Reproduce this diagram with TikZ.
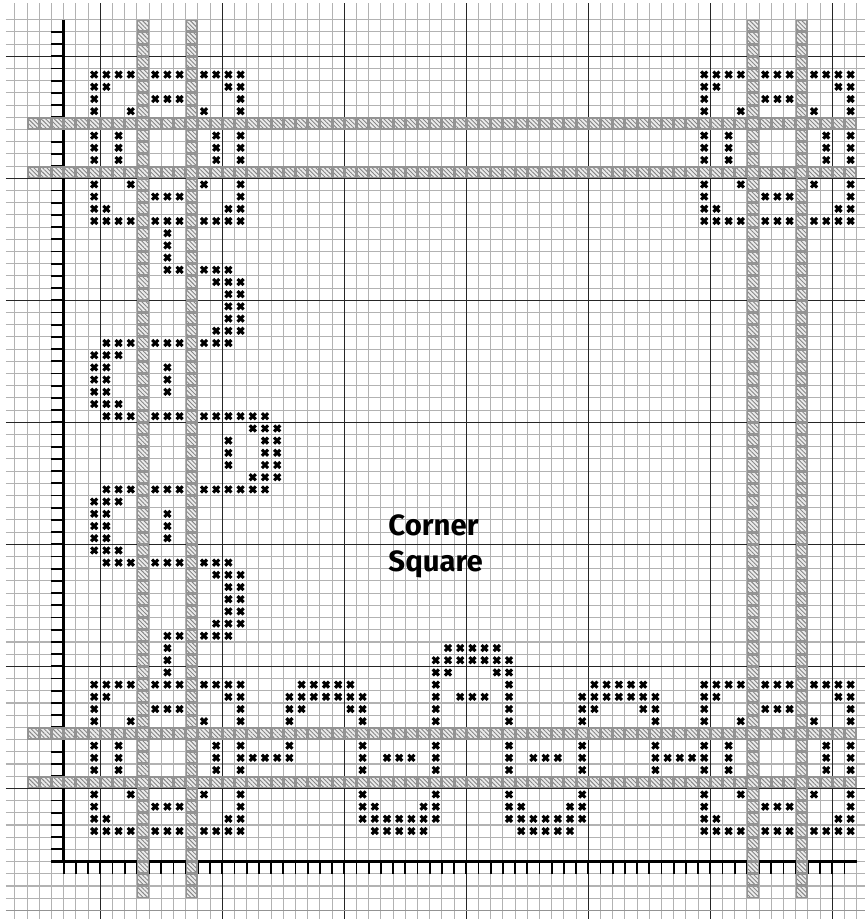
\documentclass[tikz,border=0pt]{standalone}
\usepackage{fontspec}
\setmainfont{Fira Sans}
\usetikzlibrary{patterns.meta}

\tikzset{
  gridline/.style={draw=gray!60,line width=.85pt},
  boldline/.style={draw=black!85,line width=.85pt},
  ruler/.style={draw=black,line width=1.4pt},
  rulerbase/.style={draw=black,line width=2pt},
  band/.style={draw=gray!85,line width=1.1pt,preaction={fill=gray!15},pattern={Lines[angle=-45,distance=2.3pt,line width=.7pt]},pattern color=gray!95},
  stitch/.style={draw=black,line width=2.3pt},
  labeltext/.style={font=\bfseries\fontsize{22}{26}\selectfont,anchor=base west,inner sep=0pt}
}

\begin{document}
\begin{tikzpicture}[x=9.15pt,y=-9.15pt]
\useasboundingbox[fill=white] (-8.22,-4.615) rectangle (62.68,70.71);

% grid
\foreach \c in {-7,...,62} \draw[gridline] (\c,-4.34) -- (\c,70.71);
\foreach \r in {-3,...,70} \draw[gridline] (-7.73,\r) -- (62.68,\r);
\foreach \c in {0,10,...,60} \draw[boldline] (\c,-4.34) -- (\c,70.71);
\foreach \r in {0,10,...,60} \draw[boldline] (-7.73,\r) -- (62.68,\r);
\draw[boldline,draw=gray!85,line width=1.2pt] (-7.73,70) -- (62.68,70);

% rulers
\foreach \r in {-2,...,65} \draw[ruler] (-4,\r) -- (-3,\r);
\foreach \c in {-3,...,61} \draw[ruler] (\c,66) -- (\c,67);
\draw[rulerbase] (-3,-3) -- (-3,66);
\draw[rulerbase] (-4,66) -- (62,66);

% bands
\foreach \r in {-3,...,68}
  \foreach \c in {3,7,53,57} \draw[band] (\c+.06,\r+.06) rectangle (\c+.94,\r+.94);
\foreach \c in {-6,...,61}
  \foreach \r in {5,9,55,59} \draw[band] (\c+.06,\r+.06) rectangle (\c+.94,\r+.94);

% corners
\foreach \ox/\oy in {0/0,50/0,0/50,50/50}
  \foreach \r/\cols in {
    1/{-1,0,1,2,4,5,6,8,9,10,11},
    2/{-1,0,10,11},
    3/{-1,4,5,6,11},
    4/{-1,2,8,11},
    6/{-1,1,9,11},
    7/{-1,1,9,11},
    8/{-1,1,9,11},
    10/{-1,2,8,11},
    11/{-1,4,5,6,11},
    12/{-1,0,10,11},
    13/{-1,0,1,2,4,5,6,8,9,10,11}}
    \foreach \c in \cols
      \draw[stitch] (\ox+\c+.25,\oy+\r+.25) -- (\ox+\c+.75,\oy+\r+.75)
                    (\ox+\c+.75,\oy+\r+.25) -- (\ox+\c+.25,\oy+\r+.75);

% left side and bottom side
\foreach \r/\cols in {
    14/{5}, 15/{5}, 16/{5},
    17/{5,6,8,9,10},
    18/{9,10,11}, 19/{10,11}, 20/{10,11}, 21/{10,11},
    22/{9,10,11},
    23/{0,1,2,4,5,6,8,9,10},
    24/{-1,0,1},
    25/{-1,0,5}, 26/{-1,0,5}, 27/{-1,0,5},
    28/{-1,0,1},
    29/{0,1,2,4,5,6,8,9,10,11,12,13},
    30/{12,13,14},
    31/{10,13,14}, 32/{10,13,14}, 33/{10,13,14},
    34/{12,13,14},
    35/{0,1,2,4,5,6,8,9,10,11,12,13},
    36/{-1,0,1},
    37/{-1,0,5}, 38/{-1,0,5}, 39/{-1,0,5},
    40/{-1,0,1},
    41/{0,1,2,4,5,6,8,9,10},
    42/{9,10,11}, 43/{10,11}, 44/{10,11}, 45/{10,11},
    46/{9,10,11},
    47/{5,6,8,9,10},
    48/{5,28,29,30,31,32}, 49/{5,27,28,29,30,31,32,33}, 50/{5,27,28,32,33},
    51/{16,17,18,19,20,27,33,40,41,42,43,44},
    52/{15,16,17,18,19,20,21,27,29,30,31,33,39,40,41,42,43,44,45},
    53/{15,16,20,21,27,33,39,40,44,45},
    54/{15,21,27,33,39,45},
    56/{15,21,27,33,39,45},
    57/{12,13,14,15,21,23,24,25,27,33,35,36,37,39,45,46,47,48},
    58/{21,27,33,39,45},
    60/{21,27,33,39},
    61/{21,22,26,27,33,34,38,39},
    62/{21,22,23,24,25,26,27,33,34,35,36,37,38,39},
    63/{22,23,24,25,26,34,35,36,37,38}}
  \foreach \c in \cols
    \draw[stitch] (\c+.25,\r+.25) -- (\c+.75,\r+.75)
                  (\c+.75,\r+.25) -- (\c+.25,\r+.75);

\node[labeltext] (corner) at (23.6,39.24) {Corner};
\node[labeltext] (square) at (23.6,42.25) {Square};
\end{tikzpicture}
\end{document}
